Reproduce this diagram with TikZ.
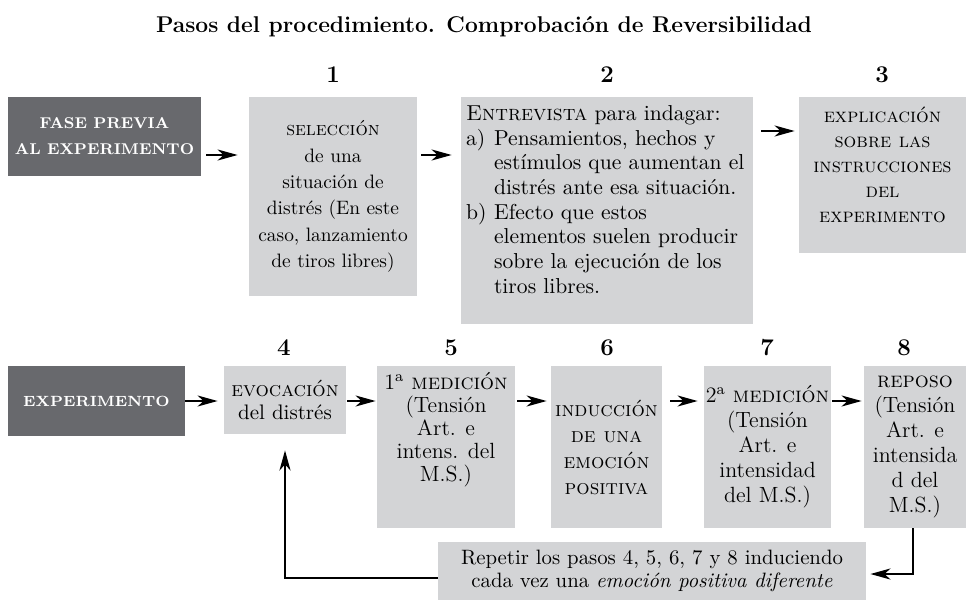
\documentclass[tikz,border=0pt]{standalone}
\usetikzlibrary{arrows.meta}
\definecolor{pasogris}{RGB}{211,212,214}
\definecolor{fasegris}{RGB}{104,105,109}
\newcommand{\itemlbl}[1]{\makebox[1.3em][l]{#1}}
\newcommand{\itemsig}{\hspace*{1.3em}}
\begin{document}
\begin{tikzpicture}[x=0.5pt,y=-0.5pt,
    paso/.style={fill=pasogris,inner sep=0pt,align=center,font=\fontsize{11}{11.6}\selectfont},
    fase/.style={fill=fasegris,text=white,inner sep=0pt,align=center,font=\fontsize{7.8}{13}\selectfont\bfseries},
    num/.style={font=\fontsize{12}{14}\selectfont\bfseries},
    arr/.style={line width=1.1pt,-{Stealth[length=10pt,width=5.5pt,inset=3pt]}},
    vuelta/.style={arr,line width=1.3pt}]
    \useasboundingbox (0,0) rectangle (967,605);
    \node[font=\fontsize{11.4}{14}\selectfont\bfseries] (titulo) at (484,27) {Pasos del procedimiento. Comprobación de Reversibilidad};
    \node[num] (n1) at (333,75) {1};
    \node[num] (n2) at (607,75) {2};
    \node[num] (n3) at (882,75) {3};
    \node[num] (n4) at (284,348) {4};
    \node[num] (n5) at (451,348) {5};
    \node[num] (n6) at (607,348) {6};
    \node[num] (n7) at (767,348) {7};
    \node[num] (n8) at (904,348) {8};
    % fase previa
    \node[fase,minimum width=96.5pt,minimum height=39.5pt] (previa) at (104.5,136.5) {FASE PREVIA\\AL EXPERIMENTO};
    \node[paso,minimum width=84pt,minimum height=99.5pt,font=\fontsize{9.7}{13.2}\selectfont] (seleccion) at (333,196.5)
        {\textsc{selección}\\de una\\situación de\\distrés (En este\\caso, lanzamiento\\de tiros libres)};
    \node[paso,minimum width=146pt,minimum height=113.5pt] (entrevista) at (607,210.5)
        {\parbox[c][105pt][t]{141pt}{\raggedright\fontsize{10.8}{12.35}\selectfont
        \textsc{Entrevista} para indagar:\\
        \itemlbl{a)}Pensamientos, hechos y\\
        \itemsig estímulos que aumentan el\\
        \itemsig distrés ante esa situación.\\
        \itemlbl{b)}Efecto que estos\\
        \itemsig elementos suelen producir\\
        \itemsig sobre la ejecución de los\\
        \itemsig tiros libres.}};
    \node[paso,minimum width=83.5pt,minimum height=78pt] (explicacion) at (882.5,175)
        {\parbox[c][68pt][t]{83pt}{\centering\fontsize{10}{12.5}\selectfont
        \textsc{explicación}\\\textsc{sobre las}\\\textsc{instrucciones}\\\textsc{del}\\\textsc{experimento}}};
    % experimento
    \node[fase,minimum width=88.5pt,minimum height=35pt,font=\fontsize{7.4}{12}\selectfont\bfseries] (experimento) at (96.5,401) {EXPERIMENTO};
    \node[paso,minimum width=61pt,minimum height=34pt,font=\fontsize{10.5}{11.2}\selectfont] (evocacion) at (285,400) {\textsc{evocación}\\del distrés};
    \node[paso,minimum width=69pt,minimum height=81pt] (medicion1) at (446,447)
        {\parbox[c][75pt][t]{69pt}{\centering
        1\textsuperscript{a} \textsc{medición}\\(Tensión\\Art. e\\intens. del\\M.S.)}};
    \node[paso,minimum width=55.5pt,minimum height=81pt,font=\fontsize{10.5}{13}\selectfont] (induccion) at (606.5,447)
        {\textsc{inducción}\\\textsc{de una}\\\textsc{emoción}\\\textsc{positiva}};
    \node[paso,minimum width=63.5pt,minimum height=81pt,font=\fontsize{11}{12.5}\selectfont] (medicion2) at (767.5,447)
        {2\textsuperscript{a} \textsc{medición}\\(Tensión\\Art. e\\intensidad\\del M.S.)};
    \node[paso,minimum width=51pt,minimum height=81pt,font=\fontsize{11}{12.5}\selectfont] (reposo) at (915,447)
        {\textsc{reposo}\\(Tensión\\Art. e\\intensida\\d del\\M.S.)};
    \node[paso,minimum width=214pt,minimum height=29pt,font=\fontsize{10.4}{11.5}\selectfont] (repetir) at (652,571)
        {Repetir los pasos 4, 5, 6, 7 y 8 induciendo\\cada vez una \textit{emoción positiva diferente}};
    % flechas
    \draw[arr,shorten <=2.5pt,shorten >=5.5pt] (previa.east |- 0,155) -- (seleccion.west |- 0,155);
    \draw[arr,shorten <=2pt,shorten >=4.5pt] (seleccion.east |- 0,155) -- (entrevista.west |- 0,155);
    \draw[arr,shorten <=4pt,shorten >=2pt] (entrevista.east |- 0,131) -- (explicacion.west |- 0,131);
    \draw[arr,shorten >=3pt] (experimento.east |- 0,401) -- (evocacion.west |- 0,401);
    \draw[arr,shorten <=0.5pt,shorten >=0.5pt] (evocacion.east |- 0,401) -- (medicion1.west |- 0,401);
    \draw[arr,shorten <=1pt,shorten >=2pt] (medicion1.east |- 0,401) -- (induccion.west |- 0,401);
    \draw[arr,shorten <=4pt,shorten >=3pt] (induccion.east |- 0,401) -- (medicion2.west |- 0,401);
    \draw[arr,shorten <=0.5pt,shorten >=1pt] (medicion2.east |- 0,401) -- (reposo.west |- 0,401);
    \draw[vuelta,shorten >=2pt] (reposo.south -| 913,0) |- ([yshift=-1.5pt]repetir.east);
    \draw[vuelta,shorten >=8pt] ([yshift=-3.5pt]repetir.west) -| (evocacion.south);
\end{tikzpicture}
\end{document}
